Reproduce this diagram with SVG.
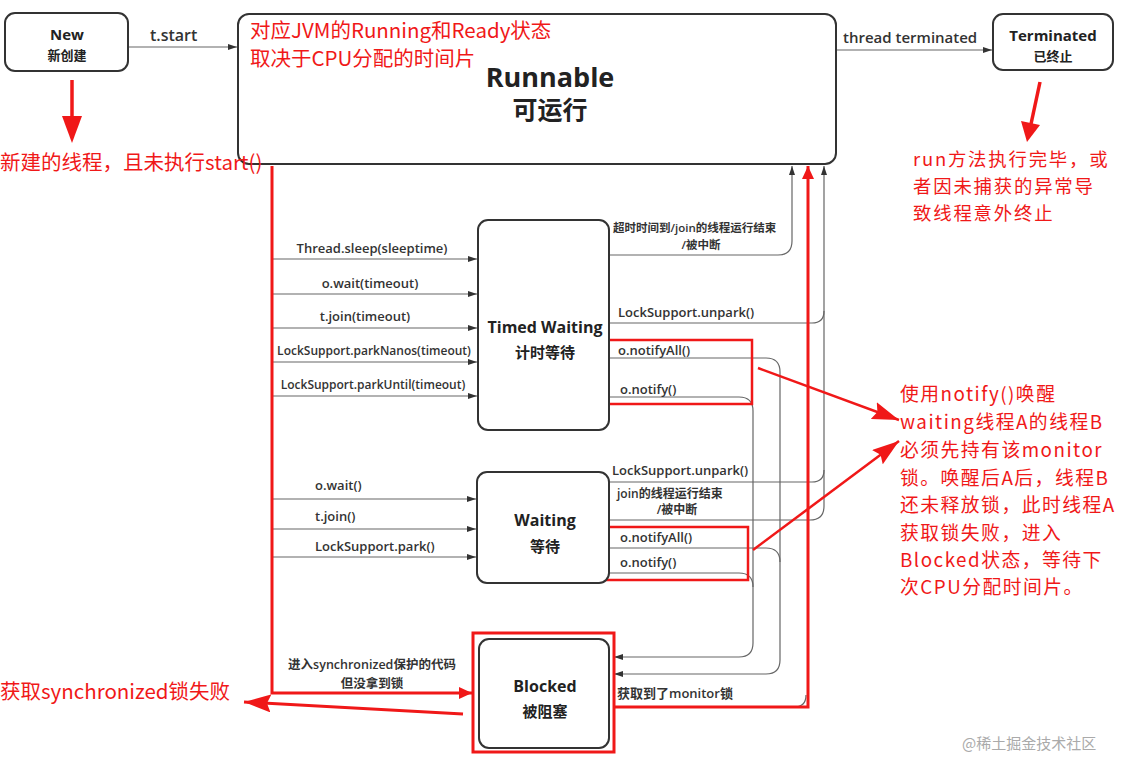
<svg xmlns="http://www.w3.org/2000/svg" width="1126" height="759" viewBox="0 0 1126 759">
<style>
.box{fill:#fff;stroke:#333;stroke-width:2}
.lbl{font-family:"Open Sans","Noto Sans CJK SC",sans-serif;font-weight:600;fill:#333}
.st{font-family:"Open Sans","Noto Sans CJK SC",sans-serif;font-weight:700;fill:#222;text-anchor:middle}
.red{font-family:"Noto Sans CJK SC","Liberation Sans",sans-serif;fill:#f01818;font-size:20.5px}
.note{font-size:18.8px;letter-spacing:1.5px}
.tnote{font-size:18.4px;letter-spacing:1.8px}
.ln{fill:none;stroke:#666;stroke-width:1.2}
.rl{fill:none;stroke:#f01818;stroke-width:3}
.rb{fill:none;stroke:#f01818;stroke-width:2.5}
</style>
<defs>
<marker id="ga" markerWidth="10" markerHeight="8" refX="9" refY="4" orient="auto" markerUnits="userSpaceOnUse"><path d="M0,1 L9,4 L0,7 Z" fill="#333"/></marker>
<marker id="ra" markerWidth="14" markerHeight="12" refX="13" refY="6" orient="auto" markerUnits="userSpaceOnUse"><path d="M0,0 L13,6 L0,12 Z" fill="#f01818"/></marker>
<marker id="rbig" markerWidth="28" markerHeight="18" refX="27" refY="9" orient="auto" markerUnits="userSpaceOnUse"><path d="M0,0 L27,9 L0,18 L4,9 Z" fill="#f01818"/></marker>
</defs>

<g id="connectors">
  <path class="ln" d="M128,47 H237" marker-end="url(#ga)"/>
  <path class="ln" d="M836,50 H992" marker-end="url(#ga)"/>
  <path class="ln" d="M272,259 H477" marker-end="url(#ga)"/>
  <path class="ln" d="M272,294 H477" marker-end="url(#ga)"/>
  <path class="ln" d="M272,328 H477" marker-end="url(#ga)"/>
  <path class="ln" d="M272,362 H477" marker-end="url(#ga)"/>
  <path class="ln" d="M272,396 H477" marker-end="url(#ga)"/>
  <path class="ln" d="M272,499 H476" marker-end="url(#ga)"/>
  <path class="ln" d="M272,529 H476" marker-end="url(#ga)"/>
  <path class="ln" d="M272,557 H476" marker-end="url(#ga)"/>
  <path class="ln" d="M609,255 H778 Q792,255 792,241 V166" marker-end="url(#ga)"/>
  <path class="ln" d="M609,323 H812 Q824,323 824,311"/>
  <path class="ln" d="M609,482 H812 Q824,482 824,470"/>
  <path class="ln" d="M609,520 H810 Q824,520 824,506 V166" marker-end="url(#ga)"/>
  <path class="ln" d="M609,358 H766 Q780,358 780,372 V660 Q780,674 766,674 H614" marker-end="url(#ga)"/>
  <path class="ln" d="M609,397 H739 Q753,397 753,411 V643 Q753,657 739,657 H614" marker-end="url(#ga)"/>
  <path class="ln" d="M609,548 H766 Q780,548 780,562"/>
  <path class="ln" d="M609,573 H739 Q753,573 753,587"/>
  <path class="ln" d="M614,707 H794 Q806,707 806,695"/>
  <path class="rl" d="M272,166 V693 H472" marker-end="url(#ra)"/>
  <path class="rl" d="M614,707 H808 V166" marker-end="url(#ra)"/>
  <path d="M72,80 V118" stroke="#f01818" stroke-width="3.5" fill="none"/>
  <path d="M62,116 L82,116 L72,143 Z" fill="#f01818"/>
  <path d="M1040,82 L1031,124" stroke="#f01818" stroke-width="3.5" fill="none"/>
  <path d="M1021,121 L1040,125 L1027,142 Z" fill="#f01818"/>
  <path d="M463,714 L244,702" stroke="#f01818" stroke-width="3" fill="none" marker-end="url(#rbig)"/>
  <path d="M758,368 L899,420" stroke="#f01818" stroke-width="2.5" fill="none" marker-end="url(#rbig)"/>
  <path d="M753,550 L899,441" stroke="#f01818" stroke-width="2.5" fill="none" marker-end="url(#rbig)"/>
  <rect class="rb" x="608" y="340" width="144" height="64"/>
  <rect class="rb" x="605" y="527" width="143" height="53"/>
</g>

<g id="new">
  <rect class="box" x="5" y="13" width="123" height="58" rx="10"/>
  <text class="st" x="67" y="40" font-size="15">New</text>
  <text class="st" x="67" y="60" font-size="13">新创建</text>
</g>
<text class="lbl" x="150" y="41" font-size="16" font-weight="700">t.start</text>

<g id="runnable">
  <rect class="box" x="238" y="14" width="598" height="150" rx="11"/>
  <text class="red" x="250" y="38" font-size="20">对应JVM的Running和Ready状态</text>
  <text class="red" x="250" y="66" font-size="20">取决于CPU分配的时间片</text>
  <text class="st" x="550" y="87" font-size="27">Runnable</text>
  <text class="st" x="550" y="119" font-size="25">可运行</text>
</g>

<text class="lbl" x="843" y="43" font-size="15">thread terminated</text>
<g id="terminated">
  <rect class="box" x="993" y="14" width="120" height="56" rx="10"/>
  <text class="st" x="1053" y="41" font-size="15">Terminated</text>
  <text class="st" x="1053" y="61" font-size="13">已终止</text>
</g>

<g id="timed-waiting">
  <rect class="box" x="478" y="220" width="131" height="210" rx="10"/>
  <text class="st" x="545" y="333" font-size="16">Timed Waiting</text>
  <text class="st" x="545" y="358" font-size="15">计时等待</text>
</g>

<g id="waiting">
  <rect class="box" x="477" y="472" width="132" height="111" rx="10"/>
  <text class="st" x="545" y="526" font-size="16">Waiting</text>
  <text class="st" x="545" y="552" font-size="15">等待</text>
</g>

<g id="blocked">
  <rect class="rl" x="473" y="633" width="141" height="119"/>
  <rect class="box" x="479" y="639" width="130" height="109" rx="10"/>
  <text class="st" x="545" y="692" font-size="16">Blocked</text>
  <text class="st" x="545" y="717" font-size="15">被阻塞</text>
</g>

<g id="labels">
  <text class="lbl" x="372" y="253" font-size="13" text-anchor="middle">Thread.sleep(sleeptime)</text>
  <text class="lbl" x="370" y="288" font-size="13" text-anchor="middle">o.wait(timeout)</text>
  <text class="lbl" x="365" y="321" font-size="13" text-anchor="middle">t.join(timeout)</text>
  <text class="lbl" x="374" y="355" font-size="12" text-anchor="middle">LockSupport.parkNanos(timeout)</text>
  <text class="lbl" x="373" y="389" font-size="12" text-anchor="middle">LockSupport.parkUntil(timeout)</text>
  <text class="lbl" x="315" y="490" font-size="13">o.wait()</text>
  <text class="lbl" x="315" y="521" font-size="13">t.join()</text>
  <text class="lbl" x="315" y="551" font-size="13">LockSupport.park()</text>
  <text class="lbl" x="613" y="232" font-size="11.5">超时时间到/join的线程运行结束</text>
  <text class="lbl" x="701" y="249" font-size="11.5" text-anchor="middle">/被中断</text>
  <text class="lbl" x="618" y="317" font-size="13">LockSupport.unpark()</text>
  <text class="lbl" x="618" y="355" font-size="13">o.notifyAll()</text>
  <text class="lbl" x="620" y="394" font-size="13">o.notify()</text>
  <text class="lbl" x="612" y="475" font-size="13">LockSupport.unpark()</text>
  <text class="lbl" x="617" y="498" font-size="12">join的线程运行结束</text>
  <text class="lbl" x="677" y="514" font-size="12" text-anchor="middle">/被中断</text>
  <text class="lbl" x="620" y="542" font-size="13">o.notifyAll()</text>
  <text class="lbl" x="620" y="567" font-size="13">o.notify()</text>
  <text class="lbl" x="372" y="669" font-size="12.5" text-anchor="middle">进入synchronized保护的代码</text>
  <text class="lbl" x="372" y="688" font-size="12.5" text-anchor="middle">但没拿到锁</text>
  <text class="lbl" x="617" y="698" font-size="13">获取到了monitor锁</text>
</g>

<g id="notes">
  <text class="red" x="0" y="170" font-size="21">新建的线程，且未执行start()</text>
  <text class="red tnote" x="913" y="166">run方法执行完毕，或</text>
  <text class="red tnote" x="913" y="193">者因未捕获的异常导</text>
  <text class="red tnote" x="913" y="220">致线程意外终止</text>
  <text class="red" x="0" y="699" font-size="21">获取synchronized锁失败</text>
  <text class="red note" x="900" y="401">使用notify()唤醒</text>
  <text class="red note" x="900" y="429">waiting线程A的线程B</text>
  <text class="red note" x="900" y="457">必须先持有该monitor</text>
  <text class="red note" x="900" y="485">锁。唤醒后A后，线程B</text>
  <text class="red note" x="900" y="512">还未释放锁，此时线程A</text>
  <text class="red note" x="900" y="540">获取锁失败，进入</text>
  <text class="red note" x="900" y="567">Blocked状态，等待下</text>
  <text class="red note" x="900" y="594">次CPU分配时间片。</text>
  <text x="962" y="749" font-family="Noto Sans CJK SC,sans-serif" font-size="15" fill="#aaa">@稀土掘金技术社区</text>
</g>
</svg>
